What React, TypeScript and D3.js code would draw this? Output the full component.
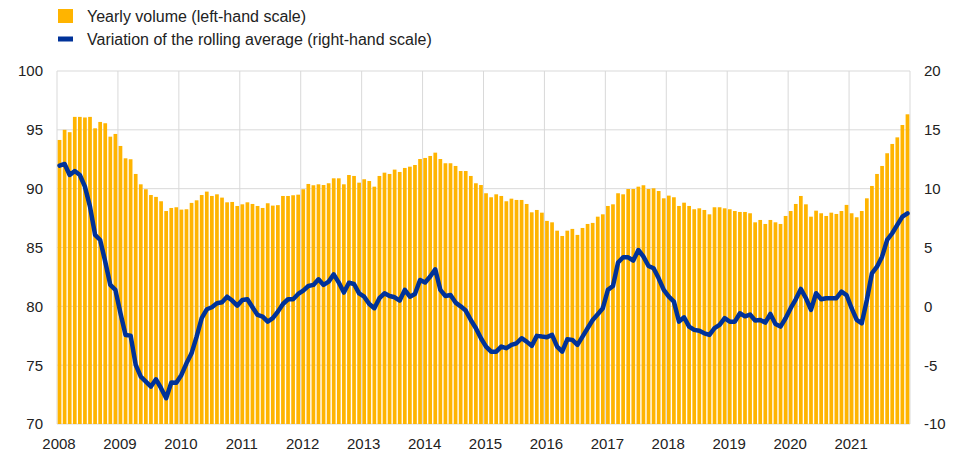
import React from "react";
import * as d3 from "d3";

const years = ["2008","2009","2010","2011","2012","2013","2014","2015","2016","2017","2018","2019","2020","2021"];

const volume2008 = [94.14, 95.0, 94.8, 96.1, 96.1, 96.05, 96.1, 95.13, 95.67, 95.56, 94.42, 94.65];
const volume2009 = [93.63, 92.58, 92.5, 91.25, 90.37, 89.95, 89.46, 89.3, 88.93, 88.1, 88.36, 88.42];
const volume2010 = [88.22, 88.25, 88.79, 89.01, 89.46, 89.75, 89.38, 89.52, 89.24, 88.84, 88.87, 88.53];
const volume2011 = [88.67, 88.84, 88.7, 88.53, 88.36, 88.76, 88.56, 88.6, 89.38, 89.38, 89.44, 89.49];
const volume2012 = [89.95, 90.4, 90.29, 90.37, 90.31, 90.46, 90.88, 90.88, 90.37, 91.16, 91.08, 90.51];
const volume2013 = [90.8, 90.65, 90.17, 91.08, 91.36, 91.25, 91.62, 91.42, 91.76, 91.87, 92.01, 92.52];
const volume2014 = [92.61, 92.78, 93.06, 92.52, 92.16, 92.16, 91.93, 91.5, 91.5, 91.08, 90.46, 90.31];
const volume2015 = [89.61, 89.27, 89.52, 89.38, 88.93, 89.15, 89.04, 89.04, 88.7, 87.99, 88.19, 87.96];
const volume2016 = [87.26, 87.14, 86.43, 85.98, 86.43, 86.58, 86.07, 86.66, 87.0, 87.09, 87.62, 87.82];
const volume2017 = [88.53, 88.67, 89.61, 89.52, 89.97, 89.97, 90.17, 90.29, 89.97, 90.03, 89.8, 89.18];
const volume2018 = [89.41, 89.27, 88.53, 88.81, 88.53, 88.25, 88.33, 88.19, 87.82, 88.42, 88.42, 88.33];
const volume2019 = [88.25, 88.1, 88.02, 88.02, 87.91, 87.14, 87.34, 87.0, 87.34, 87.14, 87.0, 87.68];
const volume2020 = [88.1, 88.7, 89.38, 88.67, 87.62, 88.13, 87.91, 87.68, 87.96, 87.85, 88.1, 88.62];
const volume2021 = [87.91, 87.57, 88.1, 89.18, 90.23, 91.25, 91.93, 93.01, 93.8, 94.36, 95.41, 96.32];

const variation2008 = [11.96, 12.1, 11.16, 11.5, 11.16, 10.17, 8.47, 6.07, 5.64, 3.8, 1.82, 1.4];
const variation2009 = [-0.59, -2.43, -2.49, -4.98, -5.97, -6.39, -6.82, -6.2, -6.96, -7.81, -6.48, -6.5];
const variation2010 = [-5.83, -4.84, -3.99, -2.57, -1.01, -0.25, -0.08, 0.26, 0.35, 0.82, 0.49, 0.06];
const variation2011 = [0.54, 0.6, -0.08, -0.73, -0.87, -1.3, -1.01, -0.45, 0.2, 0.6, 0.6, 1.05];
const variation2012 = [1.34, 1.73, 1.82, 2.3, 1.82, 2.1, 2.72, 2.02, 1.17, 2.0, 1.9, 1.1];
const variation2013 = [0.82, 0.2, -0.16, 0.69, 1.11, 0.88, 0.77, 0.49, 1.4, 0.82, 1.05, 2.24];
const variation2014 = [2.02, 2.53, 3.15, 1.4, 0.88, 0.96, 0.32, 0.0, -0.36, -1.16, -1.86, -2.71];
const variation2015 = [-3.42, -3.85, -3.85, -3.42, -3.56, -3.28, -3.14, -2.71, -3.0, -3.36, -2.51, -2.57];
const variation2016 = [-2.62, -2.43, -3.42, -3.85, -2.8, -2.85, -3.28, -2.57, -1.86, -1.16, -0.67, -0.16];
const variation2017 = [1.4, 1.73, 3.72, 4.17, 4.17, 3.89, 4.79, 4.22, 3.43, 3.23, 2.38, 1.4];
const variation2018 = [0.82, 0.4, -1.3, -0.93, -1.72, -2.0, -2.08, -2.29, -2.43, -1.86, -1.58, -1.01];
const variation2019 = [-1.3, -1.3, -0.59, -0.85, -0.7, -1.2, -1.16, -1.38, -0.65, -1.5, -1.72, -1.01];
const variation2020 = [-0.16, 0.6, 1.48, 0.69, -0.3, 1.11, 0.6, 0.69, 0.69, 0.69, 1.25, 0.96];
const variation2021 = [-0.16, -1.16, -1.44, 0.54, 2.81, 3.37, 4.22, 5.64, 6.21, 6.92, 7.62, 7.91];

const leftTicks = [70, 75, 80, 85, 90, 95, 100];
const rightTicks = [-10, -5, 0, 5, 10, 15, 20];

const legendLabels = ["Yearly volume (left-hand scale)", "Variation of the rolling average (right-hand scale)"];

const volume = [volume2008, volume2009, volume2010, volume2011, volume2012, volume2013, volume2014, volume2015, volume2016, volume2017, volume2018, volume2019, volume2020, volume2021].flat();
const variation = [variation2008, variation2009, variation2010, variation2011, variation2012, variation2013, variation2014, variation2015, variation2016, variation2017, variation2018, variation2019, variation2020, variation2021].flat();

const W = 957, H = 455;
const M = { left: 57, right: 910, top: 71, bottom: 424 };
const FONT = "'Liberation Sans', Arial, Helvetica, sans-serif";
const YELLOW = "#FFB400";
const BLUE = "#003299";
const GRID = "#d9d9d9";

export default function App() {
  const idx = volume.map((_, i) => i);
  const x = d3.scaleBand<number>().domain(idx).range([M.left, M.right]).paddingInner(0.27).paddingOuter(0.135);
  const yL = d3.scaleLinear().domain([70, 100]).range([M.bottom, M.top]);
  const yR = d3.scaleLinear().domain([-10, 20]).range([M.bottom, M.top]);
  const xYear = d3.scaleLinear().domain([0, years.length]).range([M.left, M.right]);
  const cx = (i: number) => (x(i) as number) + x.bandwidth() / 2;
  const line = d3.line<number>().x((_, i) => cx(i)).y((d) => yR(d)).curve(d3.curveLinear);

  return (
    <svg width={W} height={H} style={{ position: "absolute", left: 0, top: 0, background: "#fff" }} fontFamily={FONT}>
      {/* legend */}
      <rect x={58} y={9} width={15} height={14} fill={YELLOW} />
      <text x={87} y={21.5} fontSize={16} fill="#222">{legendLabels[0]}</text>
      <rect x={58} y={36.5} width={15} height={5} fill={BLUE} />
      <text x={87} y={44.5} fontSize={16} fill="#222">{legendLabels[1]}</text>

      {/* grid */}
      {leftTicks.map((t) => (
        <line key={"h" + t} x1={M.left} x2={M.right} y1={yL(t)} y2={yL(t)} stroke={GRID} strokeWidth={1} />
      ))}
      {d3.range(years.length + 1).map((k) => (
        <line key={"v" + k} x1={xYear(k)} x2={xYear(k)} y1={M.top} y2={M.bottom} stroke={GRID} strokeWidth={1} />
      ))}

      {/* bars */}
      {volume.map((v, i) => (
        <rect key={i} x={x(i)} y={yL(v)} width={x.bandwidth()} height={yL(70) - yL(v)} fill={YELLOW} />
      ))}

      {/* line */}
      <path d={line(variation) || ""} fill="none" stroke={BLUE} strokeWidth={4.5} strokeLinejoin="round" strokeLinecap="round" />

      {/* left axis */}
      {leftTicks.map((t) => (
        <text key={"l" + t} x={43} y={yL(t)} dy="0.36em" textAnchor="end" fontSize={15} fill="#222">{t}</text>
      ))}
      {/* right axis */}
      {rightTicks.map((t) => (
        <text key={"r" + t} x={924} y={yR(t)} dy="0.36em" textAnchor="start" fontSize={15} fill="#222">{t}</text>
      ))}
      {/* x axis */}
      {years.map((yv, k) => (
        <text key={"x" + yv} x={xYear(k) + 2} y={449} textAnchor="middle" fontSize={15} fill="#222">{yv}</text>
      ))}
    </svg>
  );
}
